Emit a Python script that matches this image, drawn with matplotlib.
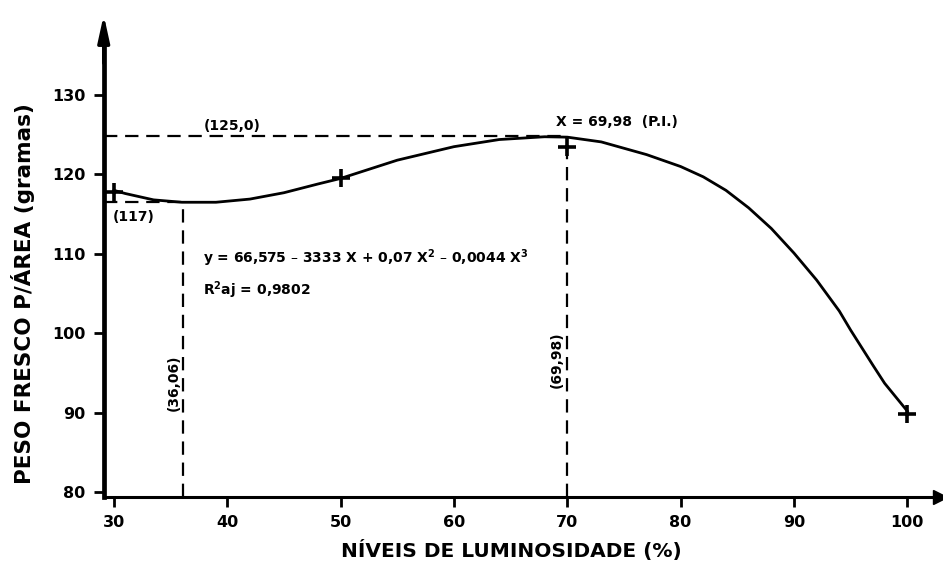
import matplotlib
matplotlib.use("Agg")
import matplotlib.pyplot as plt

# observed means (plus markers)
x_obs = [30, 50, 70, 100]
y_obs = [117.8, 119.5, 123.4, 89.8]

# fitted curve
x_fit = [30, 31, 33.5, 36, 39, 42, 45, 48, 50, 55, 60, 64, 68, 70, 73, 77, 80,
         82, 84, 86, 88, 90, 92, 94, 95, 97, 98, 100]
y_fit = [118.0, 117.6, 116.8, 116.5, 116.5, 116.9, 117.7, 118.8, 119.5, 121.8,
         123.5, 124.4, 124.75, 124.7, 124.1, 122.5, 121.0, 119.7, 118.0, 115.8,
         113.2, 110.1, 106.7, 102.8, 100.4, 95.9, 93.7, 90.2]

x_min, y_min = 36.06, 116.5
x_max, y_max = 69.98, 124.8

xticks = [30, 40, 50, 60, 70, 80, 90, 100]
yticks = [80, 90, 100, 110, 120, 130]

plt.rcParams['font.family'] = 'DejaVu Sans'
plt.rcParams['font.weight'] = 'bold'
plt.rcParams['mathtext.default'] = 'bf'

fig = plt.figure(figsize=(9.43, 5.72), dpi=100)
ax = fig.add_axes([0.110, 0.131, 0.887, 0.843])
x0, x1 = 29.1, 102.9
y0, y1 = 79.37, 140.1
ax.set_xlim(x0, x1)
ax.set_ylim(y0, y1)

for s in ['top', 'right']:
    ax.spines[s].set_visible(False)
ax.spines['left'].set_linewidth(3.4)
ax.spines['left'].set_bounds(y0, 136)
ax.spines['bottom'].set_linewidth(2.2)
ax.plot(1, 0, '>k', ms=10, transform=ax.transAxes, clip_on=False)
ax.annotate('', xy=(0, 1.0), xytext=(0, 0.9), xycoords='axes fraction',
            arrowprops=dict(arrowstyle='-|>,head_length=1.6,head_width=0.35',
                            color='black', lw=2.5, shrinkA=0, shrinkB=0))

ax.set_xticks(xticks)
ax.set_yticks(yticks)
ax.tick_params(axis='both', length=7, width=2, labelsize=11.5, pad=6)
for t in ax.get_xticklabels() + ax.get_yticklabels():
    t.set_fontweight('bold')

dash = dict(color='black', lw=1.6, dashes=(6, 3.5))
ax.plot([x0, x_max], [y_max, y_max], **dash)
ax.plot([x_max, x_max], [y0, y_max], **dash)
ax.plot([x0, x_min], [y_min, y_min], **dash)
ax.plot([x_min, x_min], [y0, y_min], **dash)

ax.plot(x_fit, y_fit, color='black', lw=2.0)
ax.plot(x_obs, y_obs, '+', color='black', ms=13, mew=2.6)

tk = dict(fontsize=10, fontweight='bold', color='black')
ax.text(40.4, 126.1, '(125,0)', ha='center', va='center', **tk)
ax.text(31.7, 114.6, '(117)', ha='center', va='center', **tk)
ax.text(69.0, 126.6, 'X = 69,98  (P.I.)', ha='left', va='center', **tk)
ax.text(37.9, 109.4, 'y = 66,575 – 3333 X + 0,07 X$^2$ – 0,0044 X$^3$',
        ha='left', va='center', **tk)
ax.text(37.9, 105.4, 'R$^2$aj = 0,9802', ha='left', va='center', **tk)
ax.text(35.3, 93.8, '(36,06)', rotation=90, ha='center', va='center', **tk)
ax.text(69.1, 96.7, '(69,98)', rotation=90, ha='center', va='center', **tk)

ax.set_xlabel('NÍVEIS DE LUMINOSIDADE (%)', fontsize=14.5, fontweight='bold')
ax.set_ylabel('PESO FRESCO P/ÁREA (gramas)', fontsize=15.5, fontweight='bold')
ax.xaxis.set_label_coords(0.487, -0.088)
ax.yaxis.set_label_coords(-0.082, 0.423)

fig.savefig('out.png', dpi=100)
